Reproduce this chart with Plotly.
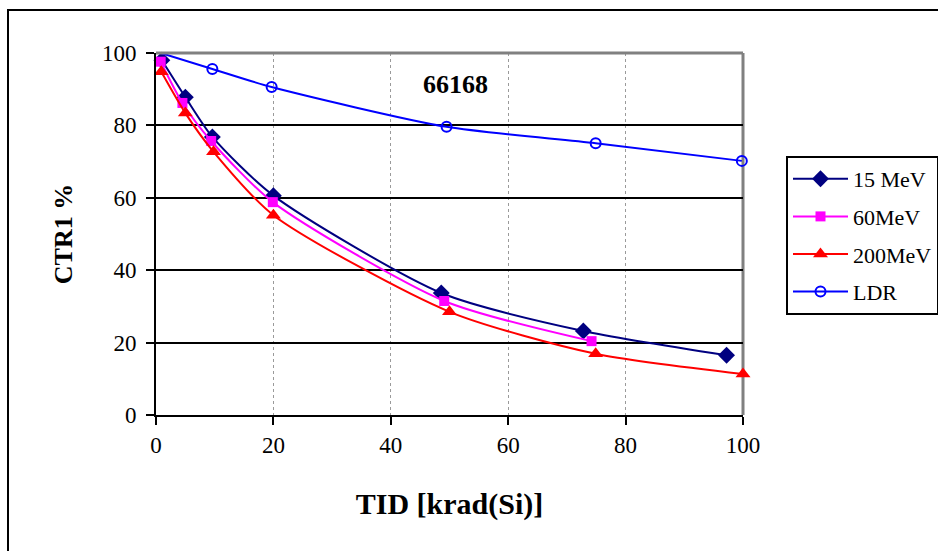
import plotly.graph_objects as go

# ---- data ----
x_15 = [1, 5, 9.6, 20, 48.6, 72.8, 97.2]
y_15 = [98.0, 87.8, 76.8, 60.6, 33.7, 23.2, 16.5]

x_60 = [0.8, 4.5, 9.4, 19.9, 49.1, 74.2]
y_60 = [97.6, 86.2, 75.7, 58.8, 31.5, 20.4]

x_200 = [0.9, 5.0, 9.8, 20, 50, 74.9, 100]
y_200 = [94.8, 83.4, 72.7, 55.2, 28.5, 16.9, 11.3]

x_ldr = [0, 9.6, 19.7, 49.5, 74.9, 99.8]
y_ldr = [100.4, 95.6, 90.6, 79.6, 75.1, 70.2]

series_names = ["15 MeV", "60MeV", "200MeV", "LDR"]
tick_vals = [0, 20, 40, 60, 80, 100]
label_text = "66168"
x_title = "TID [krad(Si)]"
y_title = "CTR1 %"

FONT = "Liberation Serif, Times New Roman, serif"
W, H = 938, 551
L, R, T, B = 156, 195, 53, 136
PW, PH = W - L - R, H - T - B


def px2paper_x(px):
    return (px - L) / PW


def px2paper_y(py):
    return (H - B - py) / PH


fig = go.Figure()
styles = [
    (x_15, y_15, "#000080", dict(symbol="diamond", size=13, color="#000080")),
    (x_60, y_60, "#FF00FF", dict(symbol="square", size=10, color="#FF00FF")),
    (x_200, y_200, "#FF0000", dict(symbol="triangle-up", size=13, color="#FF0000")),
    (x_ldr, y_ldr, "#0000FF", dict(symbol="circle-open", size=10, color="#0000FF",
                                    line=dict(width=2, color="#0000FF"))),
]
for i, (xs, ys, col, mk) in enumerate(styles):
    fig.add_trace(go.Scatter(
        x=xs, y=ys, name=series_names[i], mode="lines+markers",
        line=dict(color=col, width=2, shape="spline", smoothing=0.7),
        marker=mk, cliponaxis=False, legendgroup=f"g{i}",
    ))

fig.update_layout(
    width=W, height=H,
    margin=dict(l=L, r=R, t=T, b=B, pad=0, autoexpand=False),
    paper_bgcolor="white", plot_bgcolor="white",
    font=dict(family=FONT, size=22, color="black"),
    showlegend=True,
    legend=dict(
        x=px2paper_x(786), y=px2paper_y(156), xanchor="left", yanchor="top",
        bordercolor="black", borderwidth=2, bgcolor="white",
        font=dict(family=FONT, size=22, color="black"),
        tracegroupgap=6, itemwidth=55,
    ),
    xaxis=dict(
        range=[0, 100], tickvals=tick_vals, ticktext=[str(v) for v in tick_vals],
        showline=True, linecolor="black", linewidth=2,
        ticks="outside", ticklen=8, tickwidth=2, tickcolor="black",
        tickfont=dict(size=23),
        showgrid=True, gridcolor="#9a9a9a", gridwidth=1, griddash="dot",
        zeroline=False,
        title=dict(text=f"<b>{x_title}</b>", font=dict(size=30, family=FONT), standoff=36),
    ),
    yaxis=dict(
        range=[0, 100], tickvals=tick_vals, ticktext=[str(v) for v in tick_vals],
        showline=True, linecolor="black", linewidth=2,
        ticks="outside", ticklen=8, tickwidth=2, tickcolor="black",
        tickfont=dict(size=23), ticklabelstandoff=5,
        showgrid=True, gridcolor="black", gridwidth=2,
        zeroline=False,
        title=dict(text=f"<b>{y_title}</b>", font=dict(size=26, family=FONT), standoff=22),
    ),
)

# grey top and right plot-area borders
fig.add_shape(type="line", xref="paper", yref="paper", x0=0, x1=1, y0=1, y1=1,
              line=dict(color="#808080", width=3), layer="above")
fig.add_shape(type="line", xref="paper", yref="paper", x0=1, x1=1, y0=0, y1=1,
              line=dict(color="#808080", width=3), layer="below")

# outer chart border (extends past the right and bottom edge of the page)
fig.add_shape(type="rect", xref="paper", yref="paper",
              x0=px2paper_x(8), x1=px2paper_x(960),
              y0=px2paper_y(580), y1=px2paper_y(10),
              line=dict(color="black", width=2), layer="below")

fig.add_annotation(x=51.1, y=91.4, xref="x", yref="y", text=f"<b>{label_text}</b>",
                   showarrow=False, font=dict(family=FONT, size=26, color="black"))

fig.write_html("out.html")
